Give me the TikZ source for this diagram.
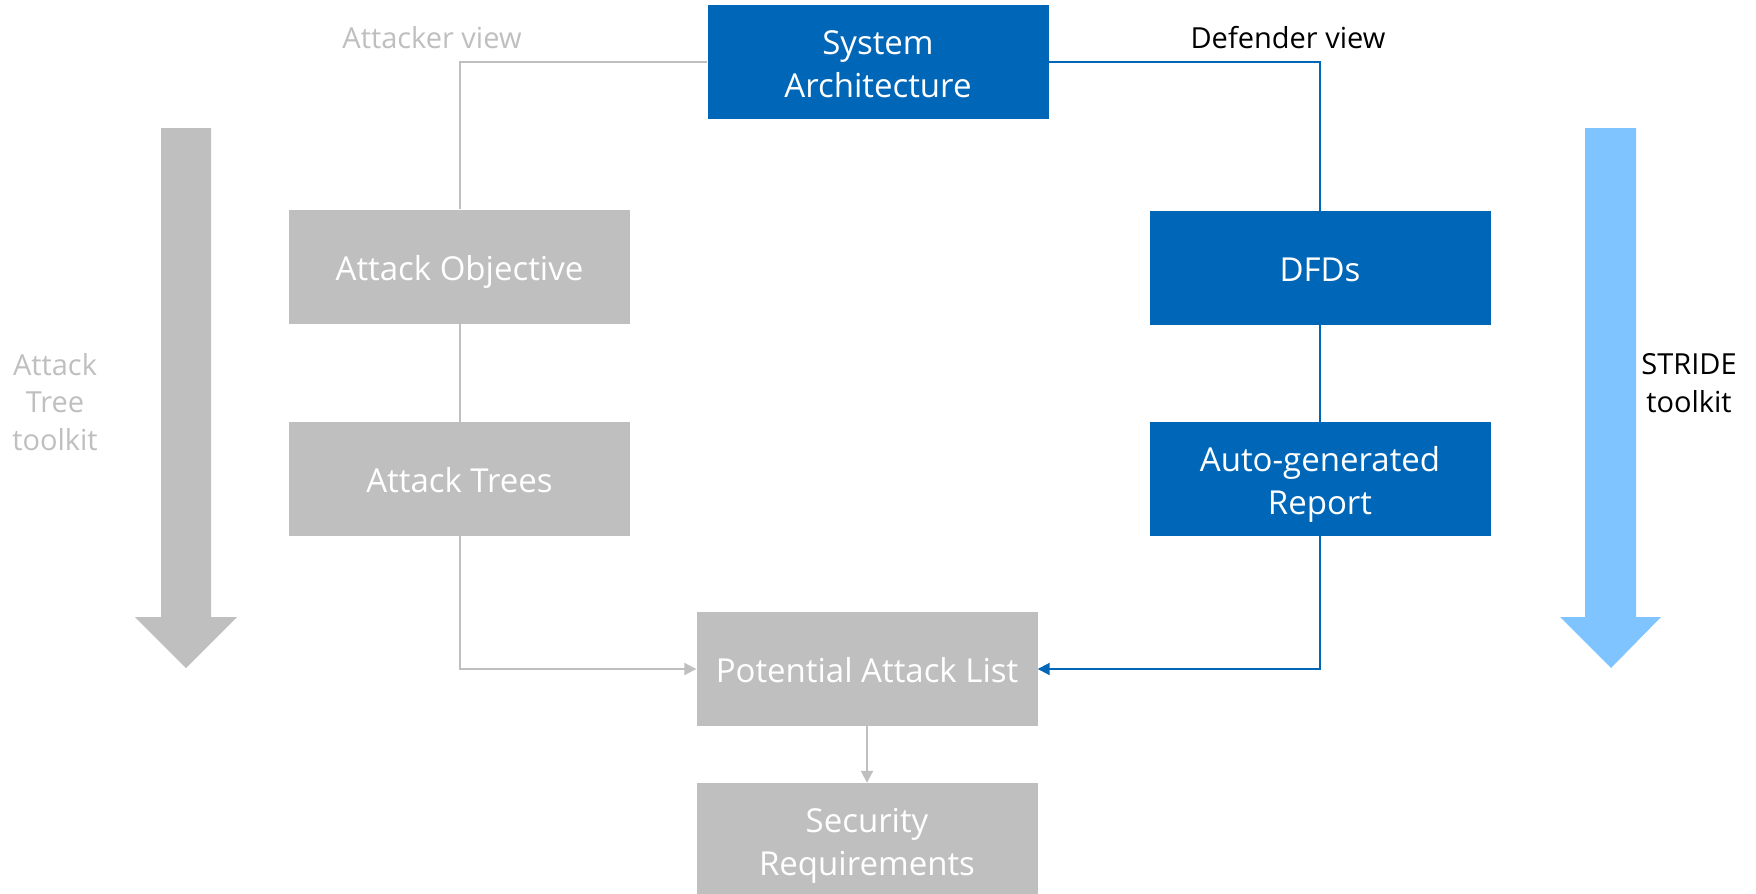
\documentclass[tikz,border=0pt]{standalone}
\usepackage{fontspec}
\setmainfont{Open Sans}
\usetikzlibrary{arrows.meta}
\definecolor{boxblue}{RGB}{0,103,184}
\definecolor{boxgray}{RGB}{191,191,191}
\definecolor{skyblue}{RGB}{128,196,255}
% fixed line strut so every box line sits on the same baseline grid
\newcommand\bxline{\rule[-8pt]{0pt}{43pt}}
\tikzset{
  box/.style={minimum width=341pt, minimum height=114pt, inner sep=0pt,
    text=white, align=center, font=\fontsize{33}{43}\selectfont},
  bluebox/.style={box, fill=boxblue},
  graybox/.style={box, fill=boxgray},
  grayline/.style={draw=boxgray, line width=2pt},
  blueline/.style={draw=boxblue, line width=2pt},
  arrowend/.style={-{Triangle[length=12pt,width=12pt]}},
  sidetext/.style={font=\fontsize{29}{37.5}\selectfont, align=center, inner sep=0pt}
}
\begin{document}
\begin{tikzpicture}[x=1pt, y=-1pt]
\useasboundingbox (0,0) rectangle (1756,894);
\fill[white] (0,0) rectangle (1756,894);

% toolkit arrows
\fill[boxgray] (161,128) -- (211,128) -- (211,617) -- (237,617) -- (186,668)
  -- (135,617) -- (161,617) -- cycle;
\fill[skyblue] (1585,128) -- (1636,128) -- (1636,617) -- (1661,617) -- (1611,668)
  -- (1560,617) -- (1585,617) -- cycle;

% boxes
\node[bluebox] (sys) at (878,62) {\bxline System\\\bxline Architecture};
\node[graybox] (ao)  at (459.5,266.5) {\bxline Attack Objective};
\node[graybox] (at)  at (459.5,479) {\bxline Attack Trees};
\node[bluebox] (dfd) at (1320,268) {\bxline DFDs};
\node[bluebox] (agr) at (1320,479) {\bxline Auto-generated\\\bxline Report};
\node[graybox] (pal) at (867,669) {\bxline Potential Attack List};
\node[graybox] (sr)  at (867,840) {\bxline Security\\\bxline Requirements};

% labels
\node[sidetext, text=boxgray] (av) at (432,38) {Attacker view};
\node[sidetext, text=black]   (dv) at (1288,38) {Defender view};
\node[sidetext, text=boxgray] (atk) at (55,402) {Attack\\Tree\\toolkit};
\node[sidetext, text=black]   (stk) at (1689,383) {STRIDE\\toolkit};

% connectors
\draw[grayline] (sys.west) -| (ao.north);
\draw[grayline] (ao.south) -- (at.north);
\draw[grayline, arrowend] (at.south) |- (pal.west);
\draw[grayline, arrowend] (pal.south) -- (sr.north);
\draw[blueline] (sys.east) -| (dfd.north);
\draw[blueline] (dfd.south) -- (agr.north);
\draw[blueline, arrowend] (agr.south) |- (pal.east);
\end{tikzpicture}
\end{document}
